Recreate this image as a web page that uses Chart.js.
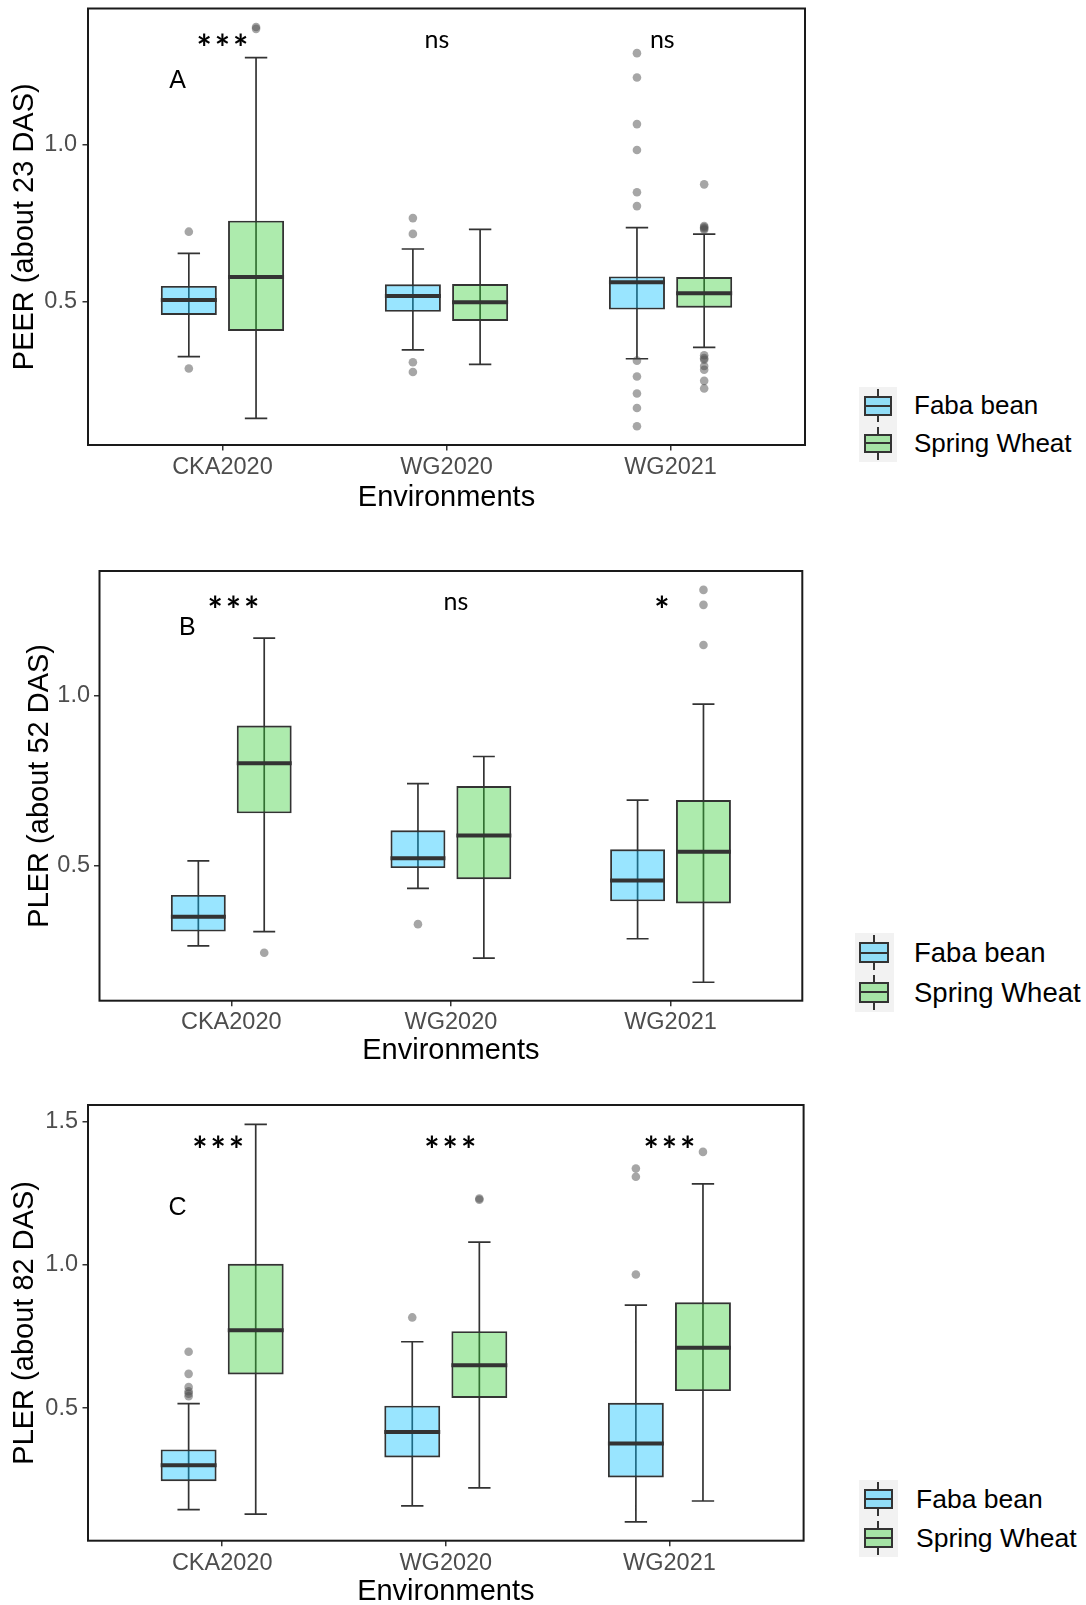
<!DOCTYPE html>
<html>
<head>
<meta charset="utf-8">
<script src="https://cdn.jsdelivr.net/npm/chart.js@4.4.1/dist/chart.umd.min.js"></script>
<style>
html,body{margin:0;padding:0;background:#fff;}
body{width:1086px;height:1605px;overflow:hidden;position:relative;font-family:"Liberation Sans",Arial,sans-serif;}
canvas{position:absolute;left:0;}
.key{position:absolute;background:#F2F2F2;}
.key .wh{position:absolute;background:#333;}
.key .bx{position:absolute;box-sizing:border-box;border:2px solid #333;}
.key .md{position:absolute;background:#333;}
.ltext{position:absolute;color:#000;white-space:nowrap;font-family:"Liberation Sans",Arial,sans-serif;}
</style>
</head>
<body>
<canvas id="cA"></canvas>
<canvas id="cB"></canvas>
<canvas id="cC"></canvas>
<div id="legends"></div>
<script>
// ---------------- DATA ----------------
const categories = ['CKA2020', 'WG2020', 'WG2021'];
const seriesNames = ['Faba bean', 'Spring Wheat'];

// per environment: [lower whisker, Q1, median, Q3, upper whisker]
const peer23Faba  = [[0.327, 0.459, 0.506, 0.551, 0.654], [0.348, 0.469, 0.519, 0.556, 0.668], [0.320, 0.476, 0.563, 0.581, 0.736]];
const peer23Wheat = [[0.131, 0.408, 0.579, 0.758, 1.275], [0.302, 0.440, 0.499, 0.557, 0.730], [0.356, 0.482, 0.528, 0.579, 0.715]];
const peer23FabaOutliers  = [[0.723, 0.289], [0.766, 0.716, 0.309, 0.278], [1.289, 1.212, 1.064, 0.982, 0.848, 0.804, 0.314, 0.264, 0.210, 0.164, 0.106]];
const peer23WheatOutliers = [[1.372, 1.366], [], [0.873, 0.741, 0.737, 0.733, 0.729, 0.331, 0.322, 0.317, 0.297, 0.285, 0.250, 0.226]];

const pler52Faba  = [[0.265, 0.307, 0.351, 0.415, 0.515], [0.434, 0.494, 0.523, 0.605, 0.742], [0.286, 0.396, 0.457, 0.549, 0.694]];
const pler52Wheat = [[0.307, 0.655, 0.802, 0.913, 1.170], [0.229, 0.461, 0.590, 0.735, 0.822], [0.158, 0.390, 0.542, 0.694, 0.976]];
const pler52FabaOutliers  = [[], [0.329], []];
const pler52WheatOutliers = [[0.245], [], [1.312, 1.268, 1.150]];

const pler82Faba  = [[0.146, 0.245, 0.301, 0.356, 0.516], [0.159, 0.328, 0.417, 0.509, 0.732], [0.103, 0.258, 0.377, 0.519, 0.860]];
const pler82Wheat = [[0.130, 0.618, 0.772, 1.004, 1.491], [0.222, 0.536, 0.650, 0.769, 1.080], [0.176, 0.560, 0.711, 0.870, 1.283]];
const pler82FabaOutliers  = [[0.697, 0.620, 0.574, 0.559, 0.551, 0.542], [0.817], [1.337, 1.308, 0.967]];
const pler82WheatOutliers = [[], [1.232, 1.228], [1.395]];

const peer23Ticks = [0.5, 1.0];
const pler52Ticks = [0.5, 1.0];
const pler82Ticks = [0.5, 1.0, 1.5];

const peer23Range = [0.0466, 1.4306];
const pler52Range = [0.1038, 1.3676];
const pler82Range = [0.0374, 1.5587];

const peer23Signif = ['***', 'ns', 'ns'];
const pler52Signif = ['***', 'ns', '*'];
const pler82Signif = ['***', '***', '***'];

const panelLetters = ['A', 'B', 'C'];
const yTitles = ['PEER (about 23 DAS)', 'PLER (about 52 DAS)', 'PLER (about 82 DAS)'];
const xTitle = 'Environments';

// ---------------- STYLE ----------------
const FILLS = ['rgba(0,191,255,0.4)', 'rgba(50,205,50,0.4)'];
const DODGE = [-0.15, 0.15];
const BOX_W = 0.25;
const CAP_HALF = 0.05;
const LINE_C = '#333333';
const SANS = '"Liberation Sans", Arial, sans-serif';
const SIGF = 'Lato, "Open Sans", sans-serif';

const layouts = [
  {top: 0, plotL: 88, plotR: 805, plotT: 8.5, plotB: 445, xTickCY: 468, xTitleCY: 497.5, yTitleCX: 25, yTickRight: 77,
   tickFont: 23.5, titleFont: 29, sigY: 1.33, sigDX: [0, -0.043, -0.037], sigFont: 25, starFont: 36, starGap: 18.3, starDY: 9.5,
   letterPos: [0.8, 1.2], letterFont: 25},
  {top: 560, plotL: 99.5, plotR: 802.3, plotT: 571, plotB: 1000.7, xTickCY: 1023, xTitleCY: 1051, yTitleCX: 40, yTickRight: 90,
   tickFont: 23.5, titleFont: 29, sigY: 1.2765, sigDX: [0.01, 0.023, -0.039], sigFont: 25, starFont: 36, starGap: 18.3, starDY: 9,
   letterPos: [0.8, 1.2], letterFont: 25},
  {top: 1095, plotL: 88, plotR: 803.6, plotT: 1105, plotB: 1540.7, xTickCY: 1563.5, xTitleCY: 1592, yTitleCX: 25, yTickRight: 78,
   tickFont: 23.5, titleFont: 29, sigY: 1.429, sigDX: [-0.018, 0.02, 0], sigFont: 25, starFont: 36, starGap: 18.3, starDY: 9,
   letterPos: [0.8, 1.2], letterFont: 25}
];

const legendLayouts = [
  {keyL: 859, keyW: 38, keyT: 387, keyH: 37.5, textL: 914, font: 26},
  {keyL: 854.5, keyW: 39.5, keyT: 933, keyH: 39.5, textL: 914, font: 27.5},
  {keyL: 859, keyW: 38.5, keyT: 1480, keyH: 38.5, textL: 916, font: 26.5}
];

// ---------------- BUILD ----------------
function buildDatasets(statsBySeries, outBySeries) {
  const ds = [];
  statsBySeries.forEach((stats, k) => {
    const off = DODGE[k];
    const whisk = [];
    stats.forEach((s, i) => {
      const xc = i + 1 + off;
      whisk.push({x: xc, y: s[0]}, {x: xc, y: s[4]}, {x: xc, y: null},
                 {x: xc - CAP_HALF, y: s[0]}, {x: xc + CAP_HALF, y: s[0]}, {x: xc, y: null},
                 {x: xc - CAP_HALF, y: s[4]}, {x: xc + CAP_HALF, y: s[4]}, {x: xc, y: null});
    });
    ds.push({type: 'line', label: seriesNames[k] + ' whiskers', data: whisk, borderColor: LINE_C, borderWidth: 1.7,
             pointRadius: 0, fill: false, spanGaps: false, tension: 0, order: 4, borderCapStyle: 'butt'});
    ds.push({type: 'bar', label: seriesNames[k], data: stats.map((s, i) => ({x: i + 1 + off, y: [s[1], s[3]]})),
             backgroundColor: FILLS[k], borderColor: LINE_C, borderWidth: 1.9, borderSkipped: false,
             grouped: false, categoryPercentage: 1, barPercentage: BOX_W / (DODGE[1] - DODGE[0]), order: 3});
    const med = [];
    stats.forEach((s, i) => {
      const xc = i + 1 + off;
      med.push({x: xc - BOX_W / 2, y: s[2]}, {x: xc + BOX_W / 2, y: s[2]}, {x: xc, y: null});
    });
    ds.push({type: 'line', label: seriesNames[k] + ' median', data: med, borderColor: LINE_C, borderWidth: 4,
             pointRadius: 0, fill: false, spanGaps: false, tension: 0, order: 2, borderCapStyle: 'butt'});
    const pts = [];
    outBySeries[k].forEach((arr, i) => arr.forEach(v => pts.push({x: i + 1 + off, y: v})));
    ds.push({type: 'scatter', label: seriesNames[k] + ' outliers', data: pts, pointRadius: 4.3,
             pointBackgroundColor: 'rgba(77,77,77,0.5)', pointBorderWidth: 0, borderWidth: 0, showLine: false, order: 1});
  });
  return ds;
}

const panelDecor = {
  id: 'panelDecor',
  afterDatasetsDraw(chart, args, o) {
    const {ctx, chartArea: a, scales: {x, y}} = chart;
    ctx.save();
    ctx.strokeStyle = '#1a1a1a';
    ctx.lineWidth = 2;
    ctx.strokeRect(a.left, a.top, a.right - a.left, a.bottom - a.top);
    ctx.fillStyle = '#000';
    ctx.textAlign = 'center';
    ctx.textBaseline = 'middle';
    ctx.font = o.letterFont + 'px ' + SANS;
    ctx.fillText(o.letter, x.getPixelForValue(o.letterPos[0]), y.getPixelForValue(o.letterPos[1]));
    o.signif.forEach((lab, i) => {
      const px = x.getPixelForValue(i + 1 + o.sigDX[i]);
      const py = y.getPixelForValue(o.sigY);
      if (/^\*+$/.test(lab)) {
        ctx.font = 'bold ' + o.starFont + 'px ' + SIGF;
        const n = lab.length;
        for (let j = 0; j < n; j++) {
          ctx.fillText('*', px + (j - (n - 1) / 2) * o.starGap, py + o.starDY);
        }
      } else {
        ctx.font = o.sigFont + 'px ' + SIGF;
        ctx.fillText(lab, px, py);
      }
    });
    ctx.restore();
  }
};

function makePanel(idx, canvasId, stats, outs, ticks, range, signif) {
  const L = layouts[idx];
  const canvas = document.getElementById(canvasId);
  const W = Math.ceil(L.plotR) + 4;
  const lhTitle = L.titleFont * 1.2;
  const lhTick = L.tickFont * 1.2;
  const scaleBottom = L.xTitleCY + lhTitle / 2;
  const H = Math.ceil(scaleBottom - L.top) + 2;
  canvas.width = W; canvas.height = H;
  canvas.style.width = W + 'px'; canvas.style.height = H + 'px';
  canvas.style.top = L.top + 'px';
  const tickLen = 5.5;
  const padTop = L.plotT - L.top;
  const padBottom = (L.top + H) - scaleBottom;
  const padRight = W - L.plotR;
  const xAxisH = scaleBottom - L.plotB;
  const xTickPad = L.xTickCY - L.plotB - tickLen - lhTick / 2;
  const yTickPad = L.plotL - tickLen - L.yTickRight;
  const yTitlePad = L.yTitleCX - lhTitle / 2;

  return new Chart(canvas, {
    type: 'bar',
    data: {datasets: buildDatasets(stats, outs)},
    options: {
      responsive: false, animation: false, devicePixelRatio: 1, events: [],
      layout: {autoPadding: false, padding: {top: padTop, left: 0, right: padRight, bottom: padBottom}},
      plugins: {
        legend: {display: false}, tooltip: {enabled: false},
        panelDecor: {letter: panelLetters[idx], letterPos: L.letterPos, letterFont: L.letterFont,
                     signif: signif, sigDX: L.sigDX, sigY: L.sigY, sigFont: L.sigFont, starFont: L.starFont,
                     starGap: L.starGap, starDY: L.starDY}
      },
      scales: {
        x: {
          type: 'linear', min: 0.4, max: 3.6, offset: false,
          afterBuildTicks: s => { s.ticks = categories.map((c, i) => ({value: i + 1})); },
          ticks: {callback: v => categories[Math.round(v) - 1], color: '#4D4D4D', font: {family: SANS, size: L.tickFont},
                  padding: xTickPad, autoSkip: false, maxRotation: 0, minRotation: 0},
          grid: {drawOnChartArea: false, drawTicks: true, tickLength: tickLen, color: LINE_C, lineWidth: 1.5, offset: false},
          border: {display: false},
          title: {display: true, text: xTitle, color: '#000', font: {family: SANS, size: L.titleFont}, padding: 0},
          afterFit: s => { s.height = xAxisH; s.paddingLeft = 0; s.paddingRight = 0; }
        },
        y: {
          type: 'linear', min: range[0], max: range[1], beginAtZero: false,
          afterBuildTicks: s => { s.ticks = ticks.map(v => ({value: v})); },
          ticks: {callback: v => Number(v).toFixed(1), color: '#4D4D4D', font: {family: SANS, size: L.tickFont}, padding: yTickPad},
          grid: {drawOnChartArea: false, drawTicks: true, tickLength: tickLen, color: LINE_C, lineWidth: 1.5},
          border: {display: false},
          title: {display: true, text: yTitles[idx], color: '#000', font: {family: SANS, size: L.titleFont}, padding: {top: yTitlePad, bottom: 0}},
          afterFit: s => { s.width = L.plotL; s.paddingTop = 0; s.paddingBottom = 0; }
        }
      }
    },
    plugins: [panelDecor]
  });
}

function makeLegend(idx) {
  const G = legendLayouts[idx];
  const host = document.getElementById('legends');
  seriesNames.forEach((name, k) => {
    const key = document.createElement('div');
    key.className = 'key';
    Object.assign(key.style, {left: G.keyL + 'px', top: (G.keyT + k * G.keyH) + 'px', width: G.keyW + 'px', height: G.keyH + 'px'});
    const boxT = G.keyH * 0.24, boxH = G.keyH * 0.52;
    const wTop = document.createElement('div');
    wTop.className = 'wh';
    Object.assign(wTop.style, {left: (G.keyW / 2 - 1) + 'px', width: '2px', top: (G.keyH * 0.06) + 'px', height: (boxT - G.keyH * 0.06) + 'px'});
    const wBot = document.createElement('div');
    wBot.className = 'wh';
    Object.assign(wBot.style, {left: (G.keyW / 2 - 1) + 'px', width: '2px', top: (boxT + boxH) + 'px', height: (G.keyH * 0.94 - boxT - boxH) + 'px'});
    const bx = document.createElement('div');
    bx.className = 'bx';
    Object.assign(bx.style, {left: (G.keyW * 0.12) + 'px', width: (G.keyW * 0.76) + 'px', top: boxT + 'px', height: boxH + 'px', background: FILLS[k]});
    const md = document.createElement('div');
    md.className = 'md';
    Object.assign(md.style, {left: (G.keyW * 0.12) + 'px', width: (G.keyW * 0.76) + 'px', top: (G.keyH * 0.5 - 1) + 'px', height: '2px'});
    key.appendChild(wTop); key.appendChild(wBot); key.appendChild(bx); key.appendChild(md);
    host.appendChild(key);
    const t = document.createElement('div');
    t.className = 'ltext';
    t.textContent = name;
    Object.assign(t.style, {left: G.textL + 'px', top: (G.keyT + k * G.keyH) + 'px', height: G.keyH + 'px', lineHeight: G.keyH + 'px', fontSize: G.font + 'px'});
    host.appendChild(t);
  });
}

makePanel(0, 'cA', [peer23Faba, peer23Wheat], [peer23FabaOutliers, peer23WheatOutliers], peer23Ticks, peer23Range, peer23Signif);
makePanel(1, 'cB', [pler52Faba, pler52Wheat], [pler52FabaOutliers, pler52WheatOutliers], pler52Ticks, pler52Range, pler52Signif);
makePanel(2, 'cC', [pler82Faba, pler82Wheat], [pler82FabaOutliers, pler82WheatOutliers], pler82Ticks, pler82Range, pler82Signif);
[0, 1, 2].forEach(makeLegend);
</script>
</body>
</html>
